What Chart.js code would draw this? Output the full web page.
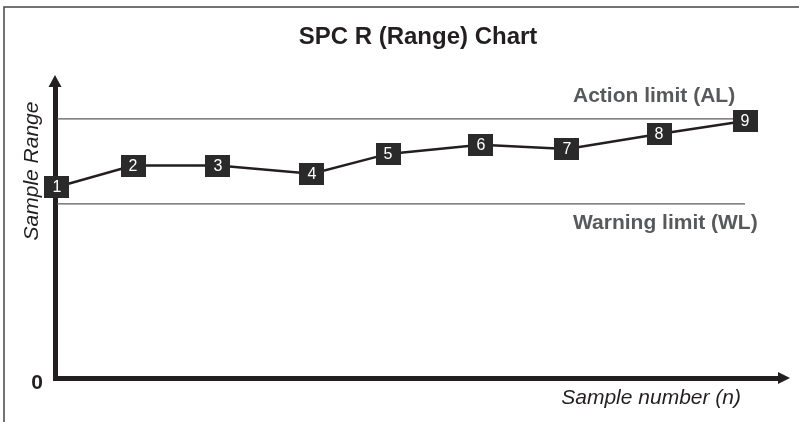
<!DOCTYPE html>
<html>
<head>
<meta charset="utf-8">
<script src="https://cdn.jsdelivr.net/npm/chart.js@4"></script>
<style>
  body { margin: 0; background: #fff; }
  #spcChart { display: block; }
</style>
</head>
<body>
<canvas id="spcChart" width="799" height="422"></canvas>
<script>
// sample numbers shown in the boxes, and where each sits along the x axis
const sampleNo = [1, 2, 3, 4, 5, 6, 7, 8, 9];
const sampleX = [1, 1.884, 2.872, 3.965, 4.849, 5.93, 6.93, 8.0, 9.0];
const sampleRange = [7.37, 8.2, 8.2, 7.88, 8.65, 9.0, 8.84, 9.42, 9.92];

const actionLimit = 10;
const warningLimit = 6.72;
const limitSpan = [1, 9];

const yTickLabels = ['0'];

const ink = '#231f20';
const grey = '#58595b';

// the square marker used for each sample
const box = document.createElement('canvas');
box.width = 25;
box.height = 22;
const bctx = box.getContext('2d');
bctx.fillStyle = '#2b2a2a';
bctx.fillRect(0, 0, 25, 22);

const decorations = {
    id: 'decorations',
    beforeDraw(chart) {
        const ctx = chart.ctx;
        ctx.save();
        ctx.fillStyle = '#fff';
        ctx.fillRect(0, 0, chart.width, chart.height);
        // frame (top + left only, picture is cropped)
        ctx.strokeStyle = '#444';
        ctx.lineWidth = 1.5;
        ctx.beginPath();
        ctx.moveTo(4, chart.height);
        ctx.lineTo(4, 7);
        ctx.lineTo(chart.width, 7);
        ctx.stroke();
        ctx.restore();
    },
    afterDraw(chart) {
        const ctx = chart.ctx;
        const area = chart.chartArea;
        const y = chart.scales.y;
        ctx.save();

        // arrow heads
        ctx.fillStyle = ink;
        ctx.beginPath();
        ctx.moveTo(area.left, 75);
        ctx.lineTo(area.left - 6.5, area.top + 1);
        ctx.lineTo(area.left + 6.5, area.top + 1);
        ctx.closePath();
        ctx.fill();
        ctx.beginPath();
        ctx.moveTo(790, area.bottom);
        ctx.lineTo(area.right - 1, area.bottom - 6);
        ctx.lineTo(area.right - 1, area.bottom + 6);
        ctx.closePath();
        ctx.fill();

        // title
        ctx.fillStyle = ink;
        ctx.textAlign = 'center';
        ctx.textBaseline = 'middle';
        ctx.font = 'bold 24px "Liberation Sans", Arial, sans-serif';
        ctx.fillText('SPC R (Range) Chart', 418, 37);

        // zero tick
        ctx.font = 'bold 21px "Liberation Sans", Arial, sans-serif';
        ctx.fillText(yTickLabels[0], 37, y.getPixelForValue(0) + 5);

        // limit labels
        ctx.fillStyle = grey;
        ctx.textAlign = 'left';
        ctx.font = 'bold 21px "Liberation Sans", Arial, sans-serif';
        ctx.fillText('Action limit (AL)', 573, y.getPixelForValue(actionLimit) - 23);
        ctx.fillText('Warning limit (WL)', 573, y.getPixelForValue(warningLimit) + 19);

        // axis titles
        ctx.fillStyle = ink;
        ctx.font = 'italic 21px "Liberation Sans", Arial, sans-serif';
        ctx.textAlign = 'right';
        ctx.fillText('Sample number (n)', 741, 398);
        ctx.translate(32, 171);
        ctx.rotate(-Math.PI / 2);
        ctx.textAlign = 'center';
        ctx.fillText('Sample Range', 0, 0);
        ctx.restore();
    },
    afterDatasetsDraw(chart) {
        const ctx = chart.ctx;
        const meta = chart.getDatasetMeta(0);
        ctx.save();
        ctx.fillStyle = '#fff';
        ctx.font = '16px "Liberation Sans", Arial, sans-serif';
        ctx.textAlign = 'center';
        ctx.textBaseline = 'middle';
        meta.data.forEach((pt, i) => {
            ctx.fillText(String(sampleNo[i]), pt.x, pt.y + 1);
        });
        ctx.restore();
    }
};

new Chart(document.getElementById('spcChart'), {
    type: 'line',
    data: {
        datasets: [
            {
                label: 'Sample range',
                data: sampleX.map((x, i) => ({ x: x, y: sampleRange[i] })),
                borderColor: ink,
                borderWidth: 2.5,
                pointStyle: box,
                pointRadius: 12,
                tension: 0,
                clip: false
            },
            {
                label: 'Action limit',
                data: limitSpan.map(x => ({ x: x, y: actionLimit })),
                borderColor: '#5a5a5a',
                borderWidth: 1.2,
                pointRadius: 0,
                clip: false
            },
            {
                label: 'Warning limit',
                data: limitSpan.map(x => ({ x: x, y: warningLimit })),
                borderColor: '#5a5a5a',
                borderWidth: 1.2,
                pointRadius: 0,
                clip: false
            }
        ]
    },
    options: {
        responsive: false,
        animation: false,
        layout: { padding: { top: 86, right: 20, left: 0, bottom: 0 } },
        plugins: {
            legend: { display: false },
            tooltip: { enabled: false },
            title: { display: false }
        },
        scales: {
            x: {
                type: 'linear',
                min: 0.977,
                max: 9.395,
                ticks: { display: false },
                grid: { display: false },
                border: { color: ink, width: 5 },
                afterFit: s => { s.height = 44; }
            },
            y: {
                min: 0,
                max: 11.27,
                ticks: { display: false },
                grid: { display: false },
                border: { color: ink, width: 5 },
                afterFit: s => { s.width = 55; }
            }
        }
    },
    plugins: [decorations]
});
</script>
</body>
</html>
